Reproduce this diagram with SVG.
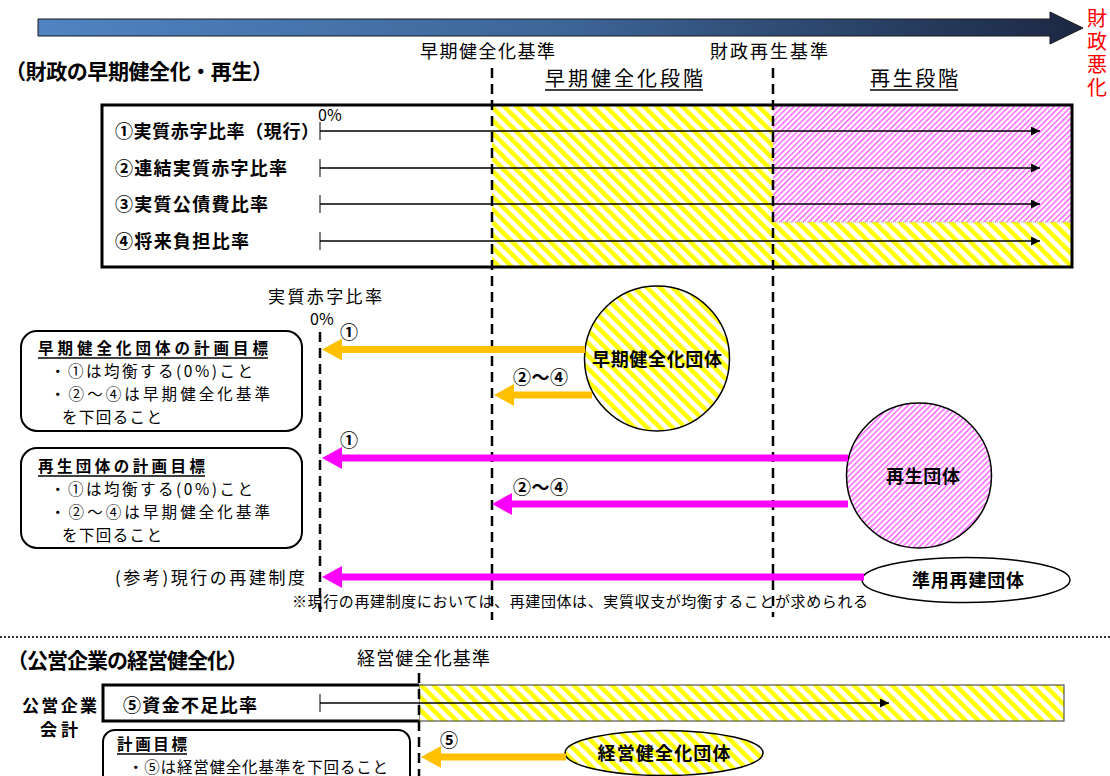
<svg xmlns="http://www.w3.org/2000/svg" width="1110" height="776" viewBox="0 0 1110 776">
<style>
.t{font-family:"Noto Sans CJK JP","Noto Sans CJK SC",sans-serif;fill:#000}
.b{font-weight:bold}
.dash{stroke:#000;stroke-width:2.5;stroke-dasharray:10 6;fill:none}
.box{fill:#fff;stroke:#000;stroke-width:2}
.thin{stroke:#000;stroke-width:1.5;fill:none}
.tick{stroke:#555;stroke-width:1.5}
.ya{stroke:#ffc000;stroke-width:7;fill:none}
.pa{stroke:#ff00ff;stroke-width:7;fill:none}
.ul{stroke:#000;stroke-width:1.3}
.bx{font-size:15.5px}
</style>
<defs>
<linearGradient id="gBar" x1="0" x2="1" y1="0" y2="0">
<stop offset="0" stop-color="#5083c1"/>
<stop offset="0.5" stop-color="#3d6698"/>
<stop offset="1" stop-color="#1c2843"/>
</linearGradient>
<pattern id="pY" width="9" height="9" patternUnits="userSpaceOnUse" patternTransform="rotate(-45)">
<rect width="9" height="9" fill="#fff"/>
<rect width="4.5" height="9" fill="#ffff00"/>
</pattern>
<pattern id="pP" width="4" height="4" patternUnits="userSpaceOnUse" patternTransform="rotate(45)">
<rect width="4" height="4" fill="#fff"/>
<rect width="1.4" height="4" fill="#ff55ff"/>
</pattern>
<marker id="mS" markerUnits="userSpaceOnUse" markerWidth="10" markerHeight="10" refX="9" refY="4.5" orient="auto">
<path d="M0,0 L9,4.5 L0,9 Z" fill="#000"/>
</marker>
<marker id="mY" markerUnits="userSpaceOnUse" markerWidth="22" markerHeight="22" refX="1" refY="11" orient="auto">
<path d="M0,0 L20,11 L0,22 Z" fill="#ffc000"/>
</marker>
<marker id="mP" markerUnits="userSpaceOnUse" markerWidth="22" markerHeight="22" refX="1" refY="11" orient="auto">
<path d="M0,0 L20,11 L0,22 Z" fill="#ff00ff"/>
</marker>
</defs>
<rect width="1110" height="776" fill="#fff"/>

<!-- top progression arrow -->
<g id="topArrow">
<path d="M38,19 L1050,19 L1050,12 L1083,28 L1050,44 L1050,36 L38,36 Z" fill="url(#gBar)" stroke="#1a1a1a" stroke-width="1"/>
<text class="t" style="fill:#ff0000;writing-mode:vertical-rl;letter-spacing:3px" x="1097" y="8" font-size="20">財政悪化</text>
</g>

<text class="t b" x="5" y="79" font-size="21" textLength="268" lengthAdjust="spacing">（財政の早期健全化・再生）</text>
<text class="t" x="420" y="58" font-size="18" textLength="135" lengthAdjust="spacing">早期健全化基準</text>
<text class="t" x="710" y="58" font-size="18" textLength="118" lengthAdjust="spacing">財政再生基準</text>
<text class="t" x="545" y="86" font-size="20" textLength="158" lengthAdjust="spacing">早期健全化段階</text>
<line class="ul" x1="545" y1="90" x2="703" y2="90"/>
<text class="t" x="870" y="86" font-size="20" textLength="88" lengthAdjust="spacing">再生段階</text>
<line class="ul" x1="870" y1="90" x2="958" y2="90"/>

<!-- main indicator box -->
<g id="indicatorBox">
<rect x="102" y="105" width="970" height="162" fill="#fff"/>
<rect x="492" y="105" width="580" height="162" fill="url(#pY)"/>
<rect x="773" y="105" width="299" height="117" fill="url(#pP)"/>
<line x1="773" y1="222" x2="1072" y2="222" stroke="#aaa" stroke-width="1" stroke-dasharray="1 1"/>
<rect x="102" y="105" width="970" height="162" fill="none" stroke="#000" stroke-width="3"/>
<text class="t" x="318" y="121" font-size="16">0%</text>
<text class="t b" x="115" y="138" font-size="18" textLength="204" lengthAdjust="spacing">①実質赤字比率（現行）</text>
<text class="t b" x="115" y="175" font-size="18" textLength="172" lengthAdjust="spacing">②連結実質赤字比率</text>
<text class="t b" x="115" y="211" font-size="18" textLength="153" lengthAdjust="spacing">③実質公債費比率</text>
<text class="t b" x="115" y="248" font-size="18" textLength="134" lengthAdjust="spacing">④将来負担比率</text>
</g>

<!-- plan boxes -->
<g id="planEarly">
<rect class="box" x="21" y="331" width="281" height="100" rx="16"/>
<text class="t b bx" x="38" y="354" textLength="230" lengthAdjust="spacing">早期健全化団体の計画目標</text>
<line class="ul" x1="38" y1="358" x2="268" y2="358"/>
<text class="t bx" x="50" y="377" textLength="203" lengthAdjust="spacing">・①は均衡する(0%)こと</text>
<text class="t bx" x="50" y="400" textLength="220" lengthAdjust="spacing">・②～④は早期健全化基準</text>
<text class="t bx" x="62" y="423" textLength="100" lengthAdjust="spacing">を下回ること</text>
</g>
<g id="planSaisei">
<rect class="box" x="21" y="448" width="281" height="100" rx="16"/>
<text class="t b bx" x="38" y="472" textLength="167" lengthAdjust="spacing">再生団体の計画目標</text>
<line class="ul" x1="38" y1="476" x2="205" y2="476"/>
<text class="t bx" x="50" y="495" textLength="203" lengthAdjust="spacing">・①は均衡する(0%)こと</text>
<text class="t bx" x="50" y="518" textLength="220" lengthAdjust="spacing">・②～④は早期健全化基準</text>
<text class="t bx" x="62" y="541" textLength="100" lengthAdjust="spacing">を下回ること</text>
</g>

<text class="t" x="268" y="303" font-size="17" textLength="114" lengthAdjust="spacing">実質赤字比率</text>
<text class="t" x="310" y="325" font-size="16">0%</text>

<!-- organisation nodes -->
<g id="nodeEarly">
<circle cx="657" cy="358.5" r="72.5" fill="url(#pY)" stroke="#000" stroke-width="1.5"/>
<text class="t b" x="657" y="366" font-size="18" text-anchor="middle" textLength="130" lengthAdjust="spacing">早期健全化団体</text>
</g>
<g id="nodeSaisei">
<circle cx="919" cy="475.5" r="72.5" fill="url(#pP)" stroke="#000" stroke-width="1.5"/>
<text class="t b" x="923" y="483" font-size="18" text-anchor="middle" textLength="74" lengthAdjust="spacing">再生団体</text>
</g>
<g id="nodeJunyo">
<ellipse cx="966" cy="580" rx="104" ry="22.5" fill="#fff" stroke="#000" stroke-width="1.5"/>
<text class="t b" x="968" y="587" font-size="18" text-anchor="middle" textLength="112" lengthAdjust="spacing">準用再建団体</text>
</g>

<text class="t" x="305" y="584" font-size="17" text-anchor="end" textLength="190" lengthAdjust="spacing">(参考)現行の再建制度</text>
<text class="t" x="292" y="607" font-size="15" textLength="576" lengthAdjust="spacing">※現行の再建制度においては、再建団体は、実質収支が均衡することが求められる</text>

<!-- separator -->
<line x1="0" y1="637" x2="1110" y2="637" stroke="#333" stroke-width="2" stroke-dasharray="2 2"/>

<text class="t b" x="7" y="668" font-size="21" textLength="241" lengthAdjust="spacing">（公営企業の経営健全化）</text>
<text class="t" x="357" y="665" font-size="18" textLength="133" lengthAdjust="spacing">経営健全化基準</text>

<g id="kigyoBox">
<rect x="419" y="685" width="645" height="36" fill="url(#pY)" stroke="#333" stroke-width="1"/>
<path d="M419,685 L103,685 L103,721 L419,721" fill="#fff" stroke="#000" stroke-width="3"/>
<text class="t b" x="22" y="712" font-size="17" textLength="75" lengthAdjust="spacing">公営企業</text>
<text class="t b" x="40" y="736" font-size="17" textLength="38" lengthAdjust="spacing">会計</text>
<text class="t b" x="123" y="712" font-size="18" textLength="134" lengthAdjust="spacing">⑤資金不足比率</text>
</g>
<g id="planKigyo">
<rect class="box" x="103" y="730" width="307" height="70" rx="12"/>
<text class="t b bx" x="117" y="750" textLength="70" lengthAdjust="spacing">計画目標</text>
<line class="ul" x1="117" y1="754" x2="187" y2="754"/>
<text class="t bx" x="128" y="773" textLength="260" lengthAdjust="spacing">・⑤は経営健全化基準を下回ること</text>
</g>
<g id="nodeKeiei">
<ellipse cx="664" cy="753" rx="99" ry="22.5" fill="url(#pY)" stroke="#000" stroke-width="1.5"/>
<text class="t b" x="664" y="760" font-size="18" text-anchor="middle" textLength="133" lengthAdjust="spacing">経営健全化団体</text>
</g>

<!-- connectors -->
<g id="connectors">
<line class="dash" x1="492" y1="68" x2="492" y2="620"/>
<line class="dash" x1="773" y1="68" x2="773" y2="617"/>
<line class="dash" x1="320" y1="332" x2="320" y2="612"/>
<line class="dash" x1="419" y1="673" x2="419" y2="776"/>

<line class="tick" x1="320" y1="122" x2="320" y2="140"/>
<line class="tick" x1="320" y1="159" x2="320" y2="177"/>
<line class="tick" x1="320" y1="195" x2="320" y2="213"/>
<line class="tick" x1="320" y1="232" x2="320" y2="250"/>
<line class="thin" x1="320" y1="131" x2="1040" y2="131" marker-end="url(#mS)"/>
<line class="thin" x1="320" y1="168" x2="1040" y2="168" marker-end="url(#mS)"/>
<line class="thin" x1="320" y1="204" x2="1040" y2="204" marker-end="url(#mS)"/>
<line class="thin" x1="320" y1="241" x2="1040" y2="241" marker-end="url(#mS)"/>

<line class="tick" x1="320" y1="694" x2="320" y2="712"/>
<line class="thin" x1="320" y1="703" x2="889" y2="703" marker-end="url(#mS)"/>

<line class="ya" x1="585" y1="349.5" x2="341" y2="349.5" marker-end="url(#mY)"/>
<line class="ya" x1="592" y1="395" x2="513" y2="395" marker-end="url(#mY)"/>
<line class="pa" x1="848" y1="458" x2="341" y2="458" marker-end="url(#mP)"/>
<line class="pa" x1="848" y1="504" x2="511" y2="504" marker-end="url(#mP)"/>
<line class="pa" x1="864" y1="577" x2="341" y2="577" marker-end="url(#mP)"/>
<line class="ya" x1="566" y1="757" x2="440" y2="757" marker-end="url(#mY)"/>

<text class="t b" x="340" y="339" font-size="18">①</text>
<text class="t b" x="513" y="384" font-size="18" textLength="55" lengthAdjust="spacing">②～④</text>
<text class="t b" x="340" y="447" font-size="18">①</text>
<text class="t b" x="513" y="494" font-size="18" textLength="55" lengthAdjust="spacing">②～④</text>
<text class="t b" x="440" y="747" font-size="18">⑤</text>
</g>
</svg>
